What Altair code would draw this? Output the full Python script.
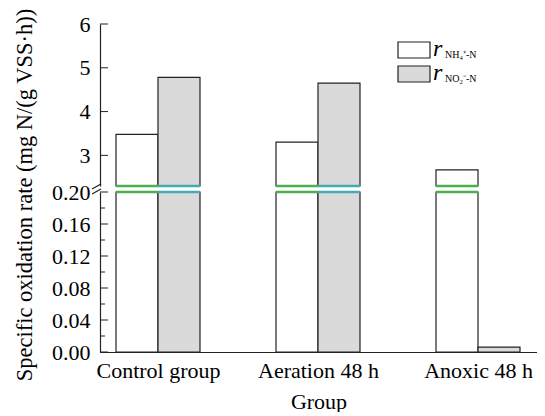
import json
import altair as alt
import pandas as pd

# ---- data ----
groups = ["Control group", "Aeration 48 h", "Anoxic 48 h"]
series = ["NH4", "NO2"]
r_nh4 = [3.48, 3.30, 2.67]
r_no2 = [4.78, 4.65, 0.006]

upper_ticks = [3, 4, 5, 6]
lower_major = [0.00, 0.04, 0.08, 0.12, 0.16, 0.20]
lower_minor = [0.02, 0.06, 0.10, 0.14, 0.18]

BREAK_LO = 0.20
BREAK_HI = 2.3
BW = 0.2625  # bar width in group units

rows = []
for i, g in enumerate(groups):
    rows.append(dict(group=g, gi=i, series="NH4", value=r_nh4[i], x0=i - BW, x1=i))
    rows.append(dict(group=g, gi=i, series="NO2", value=r_no2[i], x0=i, x1=i + BW))
df = pd.DataFrame(rows)

FONT = "'Times New Roman', 'Liberation Serif', serif"
INK = "#222222"
W = 437
xscale = alt.Scale(domain=[-0.3625, -0.3625 + W / 160], nice=False, zero=False)
fill_enc = alt.Fill("series:N", scale=alt.Scale(domain=series, range=["#ffffff", "#dadada"]), legend=None)
brk_enc = alt.Stroke("series:N", scale=alt.Scale(domain=series, range=["#4caf50", "#45aab5"]), legend=None)

# ---------------- upper panel ----------------
yscale_u = alt.Scale(domain=[BREAK_HI, 6], nice=False, zero=False)
base_u = alt.Chart(df).transform_filter(alt.datum.value > BREAK_HI)
bars_u = base_u.mark_bar(stroke=INK, strokeWidth=1.2).encode(
    x=alt.X("x0:Q", scale=xscale, axis=None),
    x2="x1:Q",
    y=alt.Y("value:Q", scale=yscale_u,
            axis=alt.Axis(values=upper_ticks, tickCount=len(upper_ticks), ticks=False,
                          labelPadding=10, title=None, format="d", labelOverlap=False)),
    y2=alt.datum(BREAK_HI),
    fill=fill_enc,
)
brk_u = base_u.mark_rule(strokeWidth=2.5).encode(
    x=alt.X("x0:Q", scale=xscale), x2="x1:Q", y=alt.datum(BREAK_HI), stroke=brk_enc
)
ticks_u = alt.Chart(pd.DataFrame({"t": upper_ticks})).mark_rule(color=INK).encode(
    y=alt.Y("t:Q", scale=yscale_u), x=alt.value(0), x2=alt.value(8)
)

leg = pd.DataFrame({"series": series})
def leg_box(s, y0, fillc):
    return alt.Chart(leg).transform_filter(alt.datum.series == s).mark_rect(
        fill=fillc, stroke=INK, strokeWidth=1.2
    ).encode(x=alt.value(298), x2=alt.value(330), y=alt.value(y0), y2=alt.value(y0 + 16))

def leg_r(y):
    return alt.Chart(leg).transform_filter(alt.datum.series == "NH4").mark_text(
        text="r", font=FONT, fontSize=24, fontStyle="italic", align="left", baseline="alphabetic"
    ).encode(x=alt.value(333), y=alt.value(y))

def leg_sub(y, txt):
    return alt.Chart(leg).transform_filter(alt.datum.series == "NH4").mark_text(
        text=txt, font=FONT, fontSize=10, align="left", baseline="alphabetic"
    ).encode(x=alt.value(345), y=alt.value(y))

legend_layers = [
    leg_box("NH4", 18, "#ffffff"), leg_box("NO2", 42, "#dadada"),
    leg_r(32), leg_r(56),
    leg_sub(34, "NH₄⁺-N"), leg_sub(58, "NO₂⁻-N"),
]

upper = alt.layer(bars_u, brk_u, ticks_u, *legend_layers).properties(width=W, height=162)

# ---------------- lower panel ----------------
yscale_l = alt.Scale(domain=[0, BREAK_LO], nice=False, zero=True)
label_expr = json.dumps(groups) + "[datum.value]"
base_l = alt.Chart(df).transform_calculate(vc=f"min(datum.value, {BREAK_LO})")
bars_l = base_l.mark_bar(stroke=INK, strokeWidth=1.2).encode(
    x=alt.X("x0:Q", scale=xscale,
            axis=alt.Axis(values=[0, 1, 2], tickCount=3, labelExpr=label_expr, ticks=False,
                          title="Group", labelPadding=8, titlePadding=10, labelOverlap=False,
                          labelFlush=False)),
    x2="x1:Q",
    y=alt.Y("vc:Q", scale=yscale_l,
            axis=alt.Axis(values=lower_major, tickCount=len(lower_major), format=".2f",
                          ticks=False, labelPadding=10, title=None, labelOverlap=False)),
    y2=alt.datum(0),
    fill=fill_enc,
)
brk_l = base_l.transform_filter(alt.datum.value > BREAK_LO).mark_rule(strokeWidth=2.5).encode(
    x=alt.X("x0:Q", scale=xscale), x2="x1:Q", y=alt.datum(BREAK_LO), stroke=brk_enc
)
ticks_l_major = alt.Chart(pd.DataFrame({"t": lower_major})).mark_rule(color=INK).encode(
    y=alt.Y("t:Q", scale=yscale_l), x=alt.value(0), x2=alt.value(8)
)
ticks_l_minor = alt.Chart(pd.DataFrame({"t": lower_minor})).mark_rule(color=INK).encode(
    y=alt.Y("t:Q", scale=yscale_l), x=alt.value(0), x2=alt.value(5)
)
one = pd.DataFrame({"a": [0]})
slash1 = alt.Chart(one).mark_rule(color=INK, strokeWidth=1.2).encode(
    x=alt.value(-8), x2=alt.value(1), y=alt.value(-3), y2=alt.value(-8)
)
slash2 = alt.Chart(one).mark_rule(color=INK, strokeWidth=1.2).encode(
    x=alt.value(-8), x2=alt.value(1), y=alt.value(2), y2=alt.value(-3)
)
ytitle = alt.Chart(one).mark_text(
    text="Specific oxidation rate (mg N/(g VSS·h))", font=FONT, fontSize=22.5, angle=270,
    align="center", baseline="middle"
).encode(x=alt.value(-75), y=alt.value(3))

lower = alt.layer(bars_l, brk_l, ticks_l_major, ticks_l_minor, slash1, slash2, ytitle).properties(
    width=W, height=160
)

chart = alt.vconcat(upper, lower, spacing=6, bounds="flush").configure_view(stroke=None).configure_axis(
    labelFont=FONT, labelFontSize=22, labelColor="#000000", titleFont=FONT, titleFontSize=22,
    titleFontWeight="normal", titleColor="#000000", domainColor=INK, domainWidth=1.2, grid=False
).properties(padding={"left": 5, "top": 0, "right": 0, "bottom": 0})

chart.save("out.html", embed_options={"renderer": "svg", "actions": False})
